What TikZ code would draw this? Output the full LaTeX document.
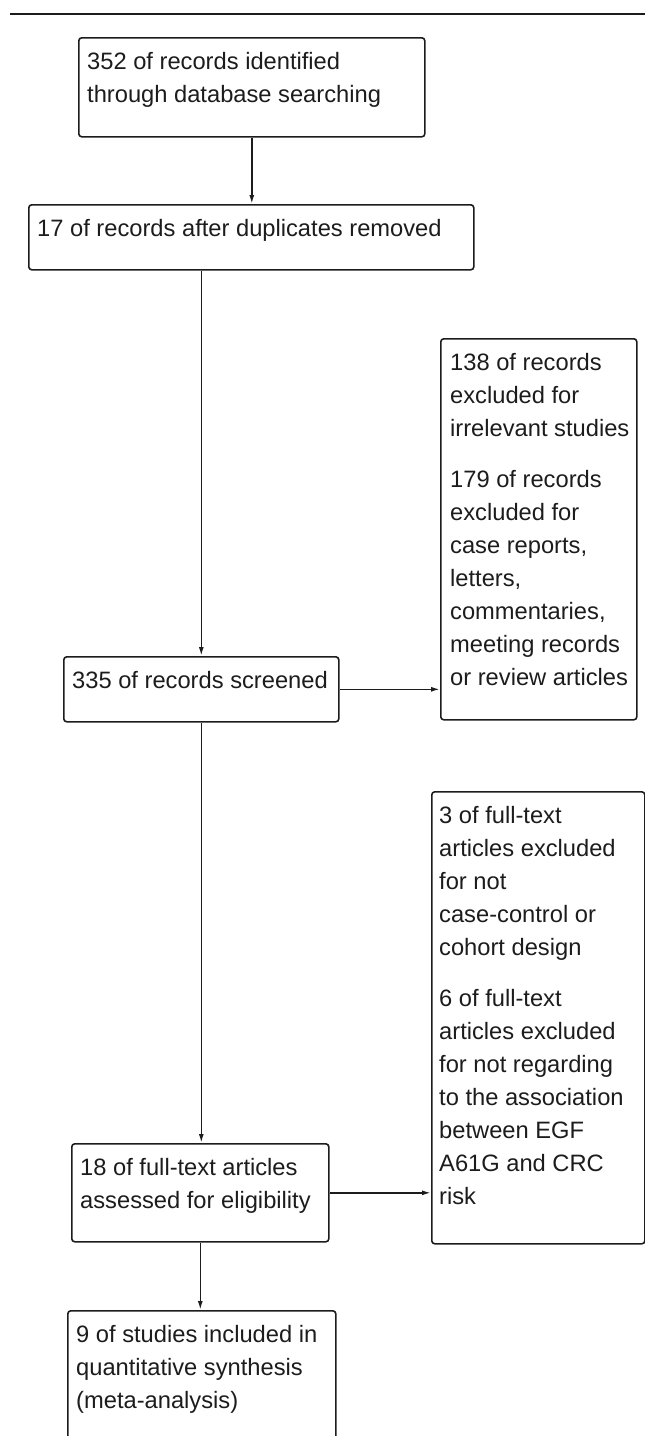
\documentclass[tikz,border=0pt]{standalone}
\usepackage{fontspec}
\setmainfont{Liberation Sans}
\usetikzlibrary{arrows.meta,positioning}
\definecolor{InkBlack}{RGB}{28,28,28}

\tikzset{
  flowbox/.style={draw=InkBlack,line width=1.6pt,rounded corners=3pt,
    anchor=north west,inner sep=0pt},
  flowtext/.style={anchor=north west,align=left,inner sep=0pt,
    text=InkBlack,font=\fontsize{23.7}{33}\selectfont},
  flowline/.style={draw=InkBlack,line width=1.6pt}
}

\begin{document}
\begin{tikzpicture}[x=1pt,y=-1pt,>={Latex[length=9pt,width=5pt]}]
      \useasboundingbox (0,0) rectangle (645,1436);
      \clip (0,0) rectangle (645,1436);
      % rule on top
      \coordinate (ruleL) at (10,14);
      \coordinate (ruleR) at (645,14);
      \draw[line width=2.6pt,InkBlack] (ruleL)--(ruleR);
      % boxes
      \node[flowbox,minimum width=346,minimum height=99] (ident) at (78,37) {};
      \node[flowbox,minimum width=445,minimum height=65] (dupl) at (28,204) {};
      \node[flowbox,minimum width=275,minimum height=65] (screen) at (63,656) {};
      \node[flowbox,minimum width=196,minimum height=381] (excl) at (440,338) {};
      \node[flowbox,minimum width=257,minimum height=98] (full) at (71,1143) {};
      \node[flowbox,minimum width=213,minimum height=452] (fullexcl) at (431,791) {};
      \node[flowbox,minimum width=268,minimum height=140] (incl) at (67,1310) {};
      % texts
      \node[flowtext] (identtxt) at ([shift={(9,15)}]ident.north west)
        {352 of records identified\\through database searching};
      \node[flowtext] (dupltxt) at ([shift={(9,15)}]dupl.north west)
        {17 of records after duplicates removed};
      \node[flowtext] (screentxt) at ([shift={(9,15)}]screen.north west)
        {335 of records screened};
      \node[flowtext] (excltxt) at ([shift={(10,15)}]excl.north west)
        {138 of records\\excluded for\\irrelevant studies\\[18pt]
         179 of records\\excluded for\\case reports,\\letters,\\commentaries,\\
         meeting records\\or review articles};
      \node[flowtext] (fulltxt) at ([shift={(9,15)}]full.north west)
        {18 of full-text articles\\assessed for eligibility};
      \node[flowtext] (fullexcltxt) at ([shift={(8,15)}]fullexcl.north west)
        {3 of full-text\\articles excluded\\for not\\case-control or\\cohort design\\[18pt]
         6 of full-text\\articles excluded\\for not regarding\\to the association\\
         between EGF\\A61G and CRC\\risk};
      \node[flowtext] (incltxt) at ([shift={(9,15)}]incl.north west)
        {9 of studies included in\\quantitative synthesis\\(meta-analysis)};
      % connectors
      \draw[flowline,->] (ident.south) -- (ident.south |- dupl.north);
      \draw[flowline,->] (screen.north |- dupl.south) -- (screen.north);
      \draw[flowline,->] (screen.east) -- (screen.east -| excl.west);
      \draw[flowline,->] (screen.south) -- (screen.south |- full.north);
      \draw[flowline,->] (full.east) -- (full.east -| fullexcl.west);
      \draw[flowline,->] (full.south) -- (full.south |- incl.north);
    \end{tikzpicture}
\end{document}
